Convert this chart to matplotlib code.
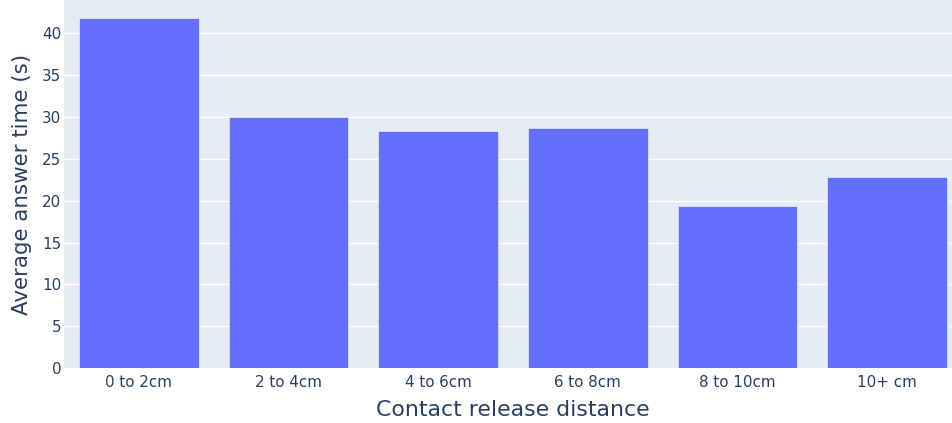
import matplotlib
matplotlib.use("Agg")
import matplotlib.pyplot as plt

categories = ["0 to 2cm", "2 to 4cm", "4 to 6cm", "6 to 8cm", "8 to 10cm", "10+ cm"]
avg_time = [41.8, 30.0, 28.35, 28.7, 19.4, 22.85]
y_ticks = [0, 5, 10, 15, 20, 25, 30, 35, 40]

W, H = 952, 423
fig = plt.figure(figsize=(W / 100, H / 100), dpi=100)
fig.patch.set_facecolor("white")
l, r, t, b = 64, 962, 0.3, 368.3
ax = fig.add_axes([l / W, 1 - b / H, (r - l) / W, (b - t) / H])
ax.set_facecolor("#E5ECF6")

x = list(range(len(categories)))
ax.bar(x, avg_time, width=0.8, color="#636EFA", edgecolor="#E5ECF6", linewidth=0.5, zorder=3)
ax.set_xlim(-0.5, len(categories) - 0.5)
ax.set_ylim(0, max(avg_time) * 1.05)
ax.set_yticks(y_ticks)
ax.set_xticks(x)
ax.set_xticklabels(categories)
ax.grid(axis="y", color="white", linewidth=1, zorder=0)
ax.set_axisbelow(True)
for s in ax.spines.values():
    s.set_visible(False)

tc = "#2a3f5f"
ax.tick_params(axis="both", length=0, labelsize=10.9, colors=tc, labelfontfamily="DejaVu Sans")
ax.tick_params(axis="x", pad=5)
ax.tick_params(axis="y", pad=2)
ax.set_xlabel("Contact release distance", fontsize=15.8, color=tc, family="DejaVu Sans", labelpad=7)
ax.set_ylabel("Average answer time (s)", fontsize=15.4, color=tc, family="DejaVu Sans", labelpad=7)

fig.savefig("out.png", dpi=100)
